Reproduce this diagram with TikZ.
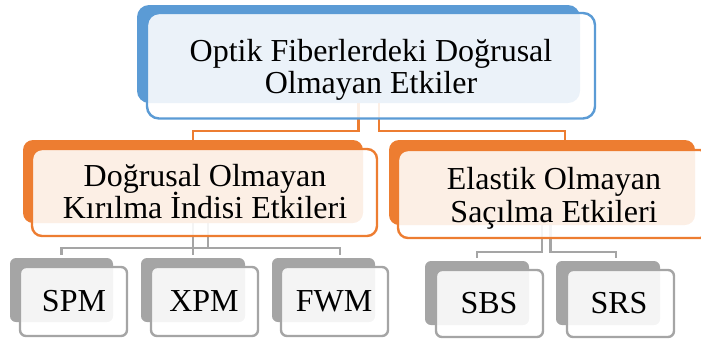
\documentclass[tikz,border=0pt]{standalone}
\usepackage{fontspec}
\setmainfont{Liberation Serif}
\definecolor{accblue}{HTML}{5B9BD5}
\definecolor{accorange}{HTML}{ED7D31}
\definecolor{accgray}{HTML}{A5A5A5}
\pgfdeclarelayer{links}
\pgfsetlayers{links,main}
\begin{document}
\begin{tikzpicture}[x=1pt,y=-1pt,
  box/.style={draw=none,inner sep=0pt,outer sep=0pt,rectangle},
  backbox/.style={box,fill=#1},
  frontbox/.style={box,draw=#1,line width=2.4pt,fill=white,fill opacity=0.88,draw opacity=1},
  bigr/.style={rounded corners=12pt},
  midr/.style={rounded corners=10pt},
  smallr/.style={rounded corners=6pt},
  label/.style={inner sep=0pt,align=center,text=black,
    font={\fontsize{32}{32.5}\selectfont\lineskiplimit=-100pt}},
  orangelink/.style={draw=accorange,line width=2.4pt},
  graylink/.style={draw=accgray,line width=2.4pt,shorten >=3pt},
]
\useasboundingbox (0,0) rectangle (701,338);

% top level
\node[backbox=accblue,bigr,minimum width=443pt,minimum height=98pt] (rootback) at (358.5,54) {};
\node[frontbox=accblue,bigr,minimum width=448pt,minimum height=105.5pt] (root) at (371,65.75) {};
\node[label] (roottext) at (371,70) {Optik Fiberlerdeki Doğrusal\\Olmayan Etkiler};

% second level
\node[backbox=accorange,midr,minimum width=340pt,minimum height=83pt] (leftback) at (193,181.5) {};
\node[frontbox=accorange,midr,minimum width=345pt,minimum height=87pt] (left) at (204.5,192.5) {};
\node[label] (lefttext) at (205,191.5) {Doğrusal Olmayan\\Kırılma İndisi Etkileri};

\node[backbox=accorange,midr,minimum width=306pt,minimum height=85pt] (rightback) at (542,182.5) {};
\node[frontbox=accorange,midr,minimum width=312pt,minimum height=88pt] (right) at (554,194) {};
\node[label] (righttext) at (554,198.5) {Elastik Olmayan\\Saçılma Etkileri};

% third level
\node[backbox=accgray,smallr,minimum width=103pt,minimum height=64pt] (spmback) at (61.5,290) {};
\node[frontbox=accgray,smallr,minimum width=107pt,minimum height=69pt] (spm) at (73.5,301.5) {};
\node[label,anchor=base] (spmtext) at (74,311) {SPM};

\node[backbox=accgray,smallr,minimum width=104pt,minimum height=64pt] (xpmback) at (193,290) {};
\node[frontbox=accgray,smallr,minimum width=107pt,minimum height=69pt] (xpm) at (204.5,301.5) {};
\node[label,anchor=base] (xpmtext) at (204,311) {XPM};

\node[backbox=accgray,smallr,minimum width=103pt,minimum height=64pt] (fwmback) at (323.5,290) {};
\node[frontbox=accgray,smallr,minimum width=107pt,minimum height=69pt] (fwm) at (334.5,301.5) {};
\node[label,anchor=base] (fwmtext) at (334,311) {FWM};

\node[backbox=accgray,smallr,minimum width=104pt,minimum height=64pt] (sbsback) at (477,293) {};
\node[frontbox=accgray,smallr,minimum width=107pt,minimum height=67pt] (sbs) at (489.5,303.5) {};
\node[label,anchor=base] (sbstext) at (489,313) {SBS};

\node[backbox=accgray,smallr,minimum width=104pt,minimum height=64pt] (srsback) at (608,293) {};
\node[frontbox=accgray,smallr,minimum width=107pt,minimum height=67pt] (srs) at (620.5,303.5) {};
\node[label,anchor=base] (srstext) at (619,313) {SRS};

% connectors, kept behind the boxes
\begin{pgfonlayer}{links}
  \draw[orangelink] (rootback.center) -- ++(0,77) -| (leftback.north);
  \draw[orangelink] ([xshift=20.5pt]rootback.center) -- ++(0,77) -| ([xshift=23pt]rightback.north);

  \draw[graylink] (leftback.center) -- (xpmback.north);
  \draw[graylink] ([xshift=15pt]leftback.center) -- ++(0,66.5) -| (spmback.north);
  \draw[graylink] ([xshift=15pt]leftback.center) -- ++(0,66.5) -| ([xshift=16.5pt]fwmback.north);

  \draw[graylink] (rightback.center) -- ++(0,69.5) -| (sbsback.north);
  \draw[graylink] ([xshift=8.5pt]rightback.center) -- ++(0,69.5) -| ([xshift=8pt]srsback.north);
\end{pgfonlayer}
\end{tikzpicture}
\end{document}
